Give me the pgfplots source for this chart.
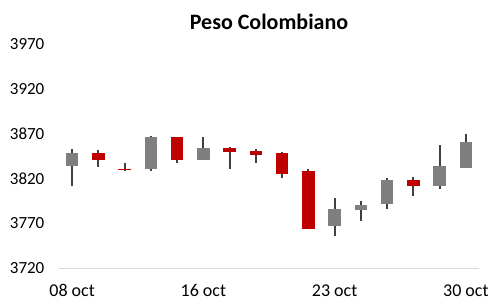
\documentclass[border=0pt]{standalone}
\usepackage{fontspec}
\setmainfont{Carlito}
\usepackage{pgfplots}
\usepackage{pgfplotstable}
\pgfplotsset{compat=1.18}
\definecolor{upc}{HTML}{7F7F7F}
\definecolor{dnc}{HTML}{C00000}
\definecolor{wick}{HTML}{404040}
\definecolor{axc}{HTML}{D9D9D9}
% x, open, high, low, close
\pgfplotstableread{
x o h l c
0 3834 3853 3811 3848
3 3830 3867 3828.6 3866
5 3841 3866 3840 3854
10 3767 3798 3756 3785.5
11 3785 3795 3772 3790
12 3791 3820 3786 3818
14 3811 3857 3808.5 3833.5
15 3832 3870 3832 3861
}\up
\pgfplotstableread{
x o h l c
1 3848 3852 3833 3841
2 3831 3837 3828.5 3829
4 3866 3866 3837.5 3841
6 3854 3855 3831 3850
7 3851 3853 3837.5 3846.5
8 3848 3850 3820 3825
9 3828 3831 3763 3763
13 3818 3822 3800 3811
}\down
\begin{document}
\begin{tikzpicture}
\useasboundingbox (0,0) rectangle (503bp,306bp);
\begin{axis}[
  at={(59bp,38bp)}, anchor=south west,
  scale only axis, width=420bp, height=224bp,
  xmin=-0.5, xmax=15.5, ymin=3720, ymax=3970,
  axis lines=left, axis line style={-},
  x axis line style={draw=axc, line width=1bp},
  y axis line style={draw=none},
  ytick={3720,3770,3820,3870,3920,3970},
  ytick style={draw=none},
  xtick={0,5,10,15},
  xticklabels={08 oct,16 oct,23 oct,30 oct},
  xtick style={draw=none},
  extra x ticks={-0.5,0.5,...,15.5},
  extra x tick labels={},
  extra x tick style={tick style={draw=axc, line width=1bp}, major tick length=5bp, tick align=outside},
  /pgf/number format/.cd, assume math mode=true, 1000 sep={}, /pgfplots/.cd,
  yticklabel style={font=\fontsize{17bp}{20bp}\selectfont, text=black, xshift=-9bp},
  xticklabel style={font=\fontsize{18bp}{21bp}\selectfont, text=black, anchor=base, yshift=-26.5bp},
  title={Peso Colombiano},
  title style={font=\fontsize{22bp}{26bp}\selectfont\bfseries, anchor=base, at={(0.5,1)}, yshift=8.5bp},
  clip=false,
]
% wicks
\addplot[draw=none, mark=none, forget plot, error bars/.cd, y dir=both, y explicit,
  error mark=none, error bar style={line width=2bp, wick}]
  table[x=x, y expr={(\thisrow{h}+\thisrow{l})/2}, y error expr={(\thisrow{h}-\thisrow{l})/2}] {\up};
\addplot[draw=none, mark=none, forget plot, error bars/.cd, y dir=both, y explicit,
  error mark=none, error bar style={line width=2bp, wick}]
  table[x=x, y expr={(\thisrow{h}+\thisrow{l})/2}, y error expr={(\thisrow{h}-\thisrow{l})/2}] {\down};
% bodies
\addplot[draw=none, mark=none, forget plot, error bars/.cd, y dir=both, y explicit,
  error mark=none, error bar style={line width=12.7bp, upc}]
  table[x=x, y expr={(\thisrow{o}+\thisrow{c})/2}, y error expr={abs(\thisrow{c}-\thisrow{o})/2}] {\up};
\addplot[draw=none, mark=none, forget plot, error bars/.cd, y dir=both, y explicit,
  error mark=none, error bar style={line width=12.7bp, dnc}]
  table[x=x, y expr={(\thisrow{o}+\thisrow{c})/2}, y error expr={abs(\thisrow{c}-\thisrow{o})/2}] {\down};
\end{axis}
\end{tikzpicture}
\end{document}
